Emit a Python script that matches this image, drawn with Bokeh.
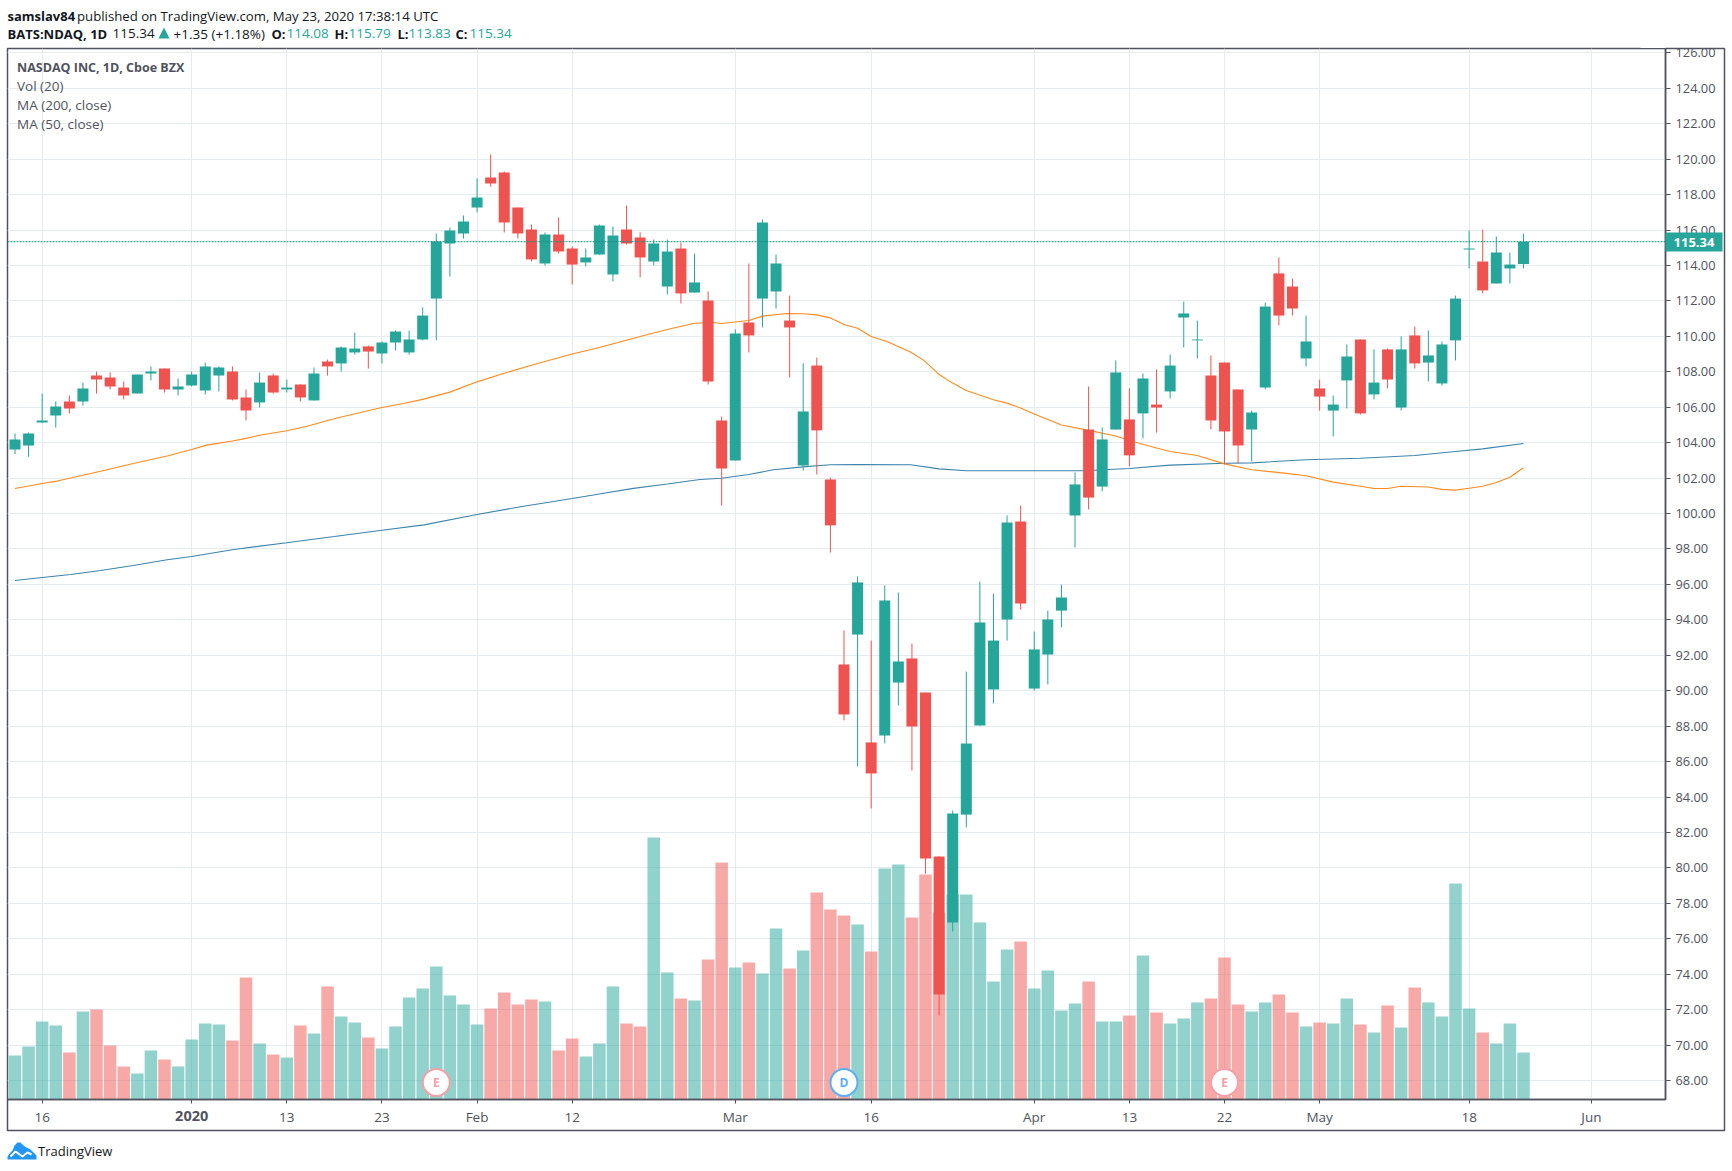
from bokeh.plotting import figure
from bokeh.embed import file_html
from bokeh.resources import INLINE
from bokeh.models import (Range1d, LinearAxis, FixedTicker, Span, Grid)
from bokeh.core.properties import value

o = [103.61,103.84,105.14,105.53,106.32,106.32,107.79,107.68,107.11,106.77,107.90,108.18,107.00,107.22,106.94,107.79,108.01,106.55,106.27,107.79,107.00,107.28,106.38,108.58,108.47,109.09,109.43,109.03,109.65,109.09,109.82,112.13,115.24,115.80,117.27,118.96,119.25,117.27,116.03,114.11,115.74,114.96,114.17,114.62,113.49,116.03,115.58,114.22,112.81,114.96,112.47,112.02,105.25,102.99,110.78,112.13,112.53,110.89,102.71,108.35,101.92,91.48,93.17,87.08,87.47,90.46,91.82,89.90,80.64,76.92,83.01,88.03,90.07,94.02,99.55,90.12,92.04,94.52,99.89,104.74,101.52,104.74,105.31,105.65,106.15,106.89,111.06,109.77,107.79,108.52,107.00,104.74,107.11,113.55,112.81,108.75,107.06,105.81,107.51,109.82,106.72,109.26,105.98,110.05,108.52,107.34,109.77,114.90,114.22,112.98,113.83,114.08]
h = [104.52,104.57,106.77,106.32,106.66,107.39,108.01,107.96,107.45,107.84,108.30,108.18,107.62,108.01,108.52,108.30,108.30,107.00,107.96,107.90,107.56,107.28,108.24,108.69,109.43,110.21,109.48,109.71,110.33,110.33,111.63,115.80,116.14,116.82,118.91,120.26,119.30,117.27,116.31,115.86,116.71,115.07,114.96,116.31,116.20,117.38,115.86,115.46,115.46,115.29,114.67,112.53,105.47,110.39,114.11,116.60,114.62,112.30,108.47,108.80,102.03,93.40,96.45,92.83,95.94,95.54,92.66,89.90,80.64,83.24,91.08,96.16,95.48,99.89,100.45,93.34,94.52,95.99,102.32,107.17,104.85,108.64,107.06,107.90,108.13,108.97,111.96,110.89,108.92,108.52,107.00,105.81,111.91,114.45,113.26,111.17,107.56,106.66,109.54,109.82,109.26,109.31,110.00,110.55,110.33,109.71,112.30,115.97,116.03,115.63,114.73,115.79]
l = [103.35,103.20,105.10,104.85,105.64,106.10,106.77,107.00,106.44,106.77,107.51,106.83,106.66,107.17,106.72,106.89,106.38,105.25,105.98,106.77,106.83,106.32,106.38,107.79,108.01,108.97,108.18,108.47,109.20,108.97,109.77,109.77,113.37,115.52,116.99,118.45,115.86,115.52,114.22,114.00,114.67,112.92,113.94,114.60,113.09,115.18,113.32,114.00,112.36,111.85,112.47,107.28,100.45,102.99,109.09,110.50,111.57,107.68,102.43,102.20,97.80,88.32,85.72,83.35,87.02,89.17,85.50,79.68,71.67,76.41,82.28,88.03,89.28,92.83,94.58,90.01,90.35,93.57,98.08,100.23,101.25,104.74,102.65,104.24,104.57,106.49,109.37,108.75,104.74,102.77,102.82,102.94,107.00,110.61,111.17,108.30,105.81,104.35,105.93,105.59,106.44,107.06,105.81,108.18,107.45,107.22,108.64,113.83,112.42,112.98,112.98,113.83]
c = [104.18,104.52,105.25,106.04,105.93,107.06,107.56,107.17,106.66,107.84,108.01,107.00,107.17,107.84,108.30,108.24,106.44,105.81,107.39,106.83,107.11,106.55,107.90,108.30,109.37,109.31,109.14,109.65,110.27,109.82,111.17,115.35,115.97,116.48,117.83,118.62,116.42,115.80,114.34,115.74,114.79,114.05,114.45,116.25,115.69,115.24,114.45,115.24,114.79,112.42,113.04,107.45,102.54,110.16,110.05,116.42,114.11,110.50,105.76,104.69,99.33,88.66,96.11,85.33,95.09,91.65,87.98,80.53,72.86,83.07,87.02,93.85,92.83,99.49,94.92,92.33,94.02,95.26,101.64,100.90,104.18,107.96,103.28,107.62,105.98,108.35,111.29,109.82,105.25,104.63,103.84,105.70,111.68,111.17,111.57,109.71,106.60,106.15,108.86,105.65,107.39,107.56,109.26,108.47,108.92,109.54,112.13,114.95,112.59,114.73,114.05,115.34]
vol = [0.44,0.53,0.78,0.74,0.47,0.88,0.90,0.54,0.33,0.26,0.49,0.40,0.33,0.60,0.76,0.75,0.59,1.22,0.56,0.45,0.42,0.74,0.66,1.13,0.83,0.77,0.62,0.51,0.73,1.02,1.11,1.33,1.04,0.95,0.75,0.91,1.07,0.95,1.00,0.98,0.49,0.61,0.43,0.56,1.13,0.76,0.73,2.62,1.27,1.01,0.99,1.40,2.37,1.32,1.37,1.26,1.71,1.31,1.49,2.07,1.90,1.84,1.75,1.48,2.31,2.35,1.82,2.25,1.87,2.05,2.05,1.77,1.18,1.50,1.58,1.11,1.29,0.89,0.96,1.18,0.78,0.78,0.84,1.44,0.87,0.76,0.81,0.97,1.01,1.42,0.95,0.88,0.97,1.05,0.87,0.73,0.77,0.76,1.01,0.75,0.67,0.94,0.72,1.12,0.97,0.83,2.16,0.91,0.67,0.56,0.76,0.47]
vol_dir = ("ggggrgrrrggrggggrrgr" "grgrggrggggggggrrrrg" "rrgggrrggrgrrgrggrgr"
           "rrgrggrrrgggggrggggr" "ggrgrgggrrrggrrgrggr" "grgrggggrggg")

ma50_idx = [0,2,3.1,4.1,6.3,8.7,11.2,13,14.1,16,17,18,20,21.5,23,24,27,28.5,30,32,34,36,38,41,43,46,48,50,51.4,52,54,55,56.8,58,59,60,61,62,63,64.2,65.9,66.9,68,69,70,72,73,74,75,77,79,81,82,84,85,87,89,91,93.4,95,97,99,100,101,102,104,105,106,107,108,109,110,111]
ma50 = [101.41,101.69,101.83,102.0,102.39,102.82,103.25,103.61,103.86,104.09,104.24,104.42,104.67,104.92,105.25,105.45,105.98,106.19,106.44,106.85,107.43,107.92,108.37,109.0,109.37,109.99,110.38,110.74,110.78,110.72,110.89,111.14,111.29,111.27,111.21,111.04,110.67,110.46,109.99,109.69,109.11,108.63,107.85,107.36,106.94,106.42,106.23,105.96,105.62,105.0,104.69,104.37,104.12,103.7,103.5,103.27,102.8,102.47,102.28,102.13,101.77,101.54,101.41,101.41,101.54,101.5,101.36,101.32,101.43,101.54,101.75,102.05,102.58]
ma200_idx = [0,2,4.1,6.3,8.7,11.2,13,16.1,20,23.5,27,30.1,34,37.2,41,43,45.5,48,50.4,52,54,55.8,58,60,62,65.9,68,70,75,78.6,82,85,89,91,95,99,103,106,108,111]
ma200 = [96.22,96.39,96.56,96.78,97.07,97.39,97.57,97.97,98.35,98.7,99.06,99.36,99.94,100.38,100.85,101.1,101.42,101.67,101.92,101.99,102.2,102.47,102.63,102.75,102.77,102.75,102.52,102.41,102.41,102.41,102.54,102.73,102.84,102.86,103.03,103.12,103.27,103.5,103.65,103.95]

price_ticks = list(range(68, 128, 2))
date_ticks = [2, 20, 27, 34, 41, 53, 63, 75, 82, 89, 96, 107, 116]
date_labels = ["16", "13", "23", "Feb", "12", "Mar", "16", "Apr", "13", "22", "May", "18", "Jun"]
year_tick = 13
year_label = "2020"
events = [31, 61, 89]
event_labels = ["E", "D", "E"]
last_price = 115.34

UP, DOWN = "#26a69a", "#ef5350"
FRAME = "#50535e"
GRID = "#e4ecf2"
TXT = "#50535e"
DARK = "#131722"
FONT = "Open Sans"

n = len(o)
assert len(h) == n and len(l) == n and len(c) == n and len(vol) == n and len(vol_dir) == n
assert len(ma50) == len(ma50_idx) and len(ma200) == len(ma200_idx)
xs = list(range(n))
colors = [UP if c[i] >= o[i] else DOWN for i in range(n)]
vcolors = [UP if s == "g" else DOWN for s in vol_dir]

p = figure(width=1732, height=1171, output_backend="svg", toolbar_location=None,
           x_range=Range1d(-0.552, 121.45), y_range=Range1d(66.93, 126.243),
           min_border_left=7, min_border_right=67, min_border_top=48, min_border_bottom=72,
           background_fill_color="white", border_fill_color="white")
p.extra_y_ranges = {"vol": Range1d(0, 10.51)}
p.yaxis.visible = False
p.xaxis.visible = False
p.xgrid.visible = False
p.ygrid.visible = False
p.outline_line_color = FRAME
p.outline_line_width = 1.5

axis_kw = dict(axis_line_color=FRAME, axis_line_width=1.5, major_tick_line_color=FRAME,
               major_label_text_color=TXT, major_label_text_font=FONT,
               minor_tick_out=0, minor_tick_in=0, major_tick_in=0)
ya = LinearAxis(ticker=FixedTicker(ticks=price_ticks), major_tick_out=5, major_label_standoff=5,
                major_label_text_font_size="12.8px",
                major_label_overrides={t: f"{t}.00" for t in price_ticks}, **axis_kw)
p.add_layout(ya, "right")
xa = LinearAxis(ticker=FixedTicker(ticks=date_ticks + [year_tick]), major_tick_out=4, major_label_standoff=4,
                major_label_text_font_size="13.5px",
                major_label_overrides={**dict(zip(date_ticks, date_labels)), year_tick: ""}, **axis_kw)
p.add_layout(xa, "below")

p.add_layout(Grid(dimension=0, ticker=FixedTicker(ticks=date_ticks + [year_tick]), grid_line_color=GRID, grid_line_width=1))
p.add_layout(Grid(dimension=1, ticker=FixedTicker(ticks=price_ticks), grid_line_color=GRID, grid_line_width=1))

p.vbar(x=xs, top=vol, bottom=0, width=0.92, fill_color=vcolors, fill_alpha=0.5, line_color=None, y_range_name="vol")
p.line(ma200_idx, ma200, line_color="#3c84ad", line_width=1.1)
p.line(ma50_idx, ma50, line_color="#ff8a1f", line_width=1.1)
p.add_layout(Span(location=last_price, dimension="width", line_color="#1a8f84", line_dash="2 1", line_width=1))
p.segment(x0=xs, x1=xs, y0=l, y1=h, line_color=colors, line_width=1)
p.vbar(x=xs, top=[max(a, b) for a, b in zip(o, c)], bottom=[min(a, b) for a, b in zip(o, c)], width=0.81,
       fill_color=colors, line_color=None)

ev_y = [67.89] * len(events)
ev_col = ["#f4a0a6", "#5aaef5", "#f4a0a6"]
p.scatter(events, ev_y, size=27, marker="circle", fill_color="white", line_color=ev_col, line_width=2)
for xv, t, col in zip(events, event_labels, ev_col):
    p.text([xv], [67.89], text=[t], text_color=col, text_align="center", text_baseline="middle",
           text_font=value(FONT), text_font_style="bold", text_font_size="12px")

# page-sized transparent layer for the header, footer, price tag and outer frame
ov = figure(width=1732, height=1171, output_backend="svg", toolbar_location=None,
            x_range=Range1d(0, 1732), y_range=Range1d(1171, 0),
            min_border_left=0, min_border_right=0, min_border_top=0, min_border_bottom=0,
            background_fill_alpha=0, border_fill_alpha=0, outline_line_color=None)
ov.styles = {"position": "absolute", "left": "0px", "top": "0px", "pointer-events": "none"}
ov.xaxis.visible = False
ov.yaxis.visible = False
ov.xgrid.visible = False
ov.ygrid.visible = False

def txt(x, y, t, color=TXT, bold=False, size="13.5px", align="left"):
    ov.text([x], [y], text=[t], text_color=color, text_font=value(FONT), text_font_size=size,
            text_font_style="bold" if bold else "normal", text_align=align, text_baseline="middle")

ov.quad(left=[1640], right=[1732], top=[0], bottom=[47.5], fill_color="white", line_color=None)
ov.multi_line(xs=[[1665, 1724, 1724, 7, 7]], ys=[[48, 48, 1130, 1130, 1099]], line_color=FRAME, line_width=1.5)
ov.quad(left=[1665], right=[1722], top=[232], bottom=[251], fill_color=UP, line_color=None)
txt(1693.5, 241.5, "115.34", color="white", bold=True, align="center", size="13px")

txt(14.5 + 13 * 13.59, 1115, year_label, bold=True, size="14.5px", align="center")

txt(7, 15, "samslav84", color=DARK, bold=True, size="13px")
txt(76.5, 15, "published on TradingView.com, May 23, 2020 17:38:14 UTC", color=DARK, size="13.2px")
txt(7, 33, "BATS:NDAQ, 1D", color=DARK, bold=True, size="13px")
txt(112, 33, "115.34", color=DARK)
txt(173, 33, "+1.35 (+1.18%)", color=DARK)
ov.patch([158, 169, 163.5], [38, 38, 27], fill_color=UP, line_color=None)
for x, t, col, b in [(271, "O:", DARK, True), (286, "114.08", UP, False), (334, "H:", DARK, True),
                     (348, "115.79", UP, False), (397, "L:", DARK, True), (408, "113.83", UP, False),
                     (455, "C:", DARK, True), (469, "115.34", UP, False)]:
    txt(x, 33, t, color=col, bold=b, size="13px" if b else "13.5px")

txt(16.5, 66.5, "NASDAQ INC, 1D, Cboe BZX", bold=True, size="12.5px")
txt(16.5, 85.5, "Vol (20)")
txt(16.5, 104, "MA (200, close)")
txt(16.5, 123, "MA (50, close)")

ov.patch([7, 9, 12, 14, 17, 20, 23, 26, 30, 33, 36, 36, 7],
         [1156, 1153, 1150, 1145, 1142, 1142, 1145, 1147, 1149, 1152, 1155, 1159, 1159],
         fill_color="#2196f3", line_color=None)
ov.line([10, 15, 22, 27, 31], [1156, 1151, 1156, 1152, 1154], line_color="white", line_width=2)
txt(37.5, 1150, "TradingView", color=DARK, size="13px")

open("out.html", "w").write(file_html([p, ov], INLINE))
